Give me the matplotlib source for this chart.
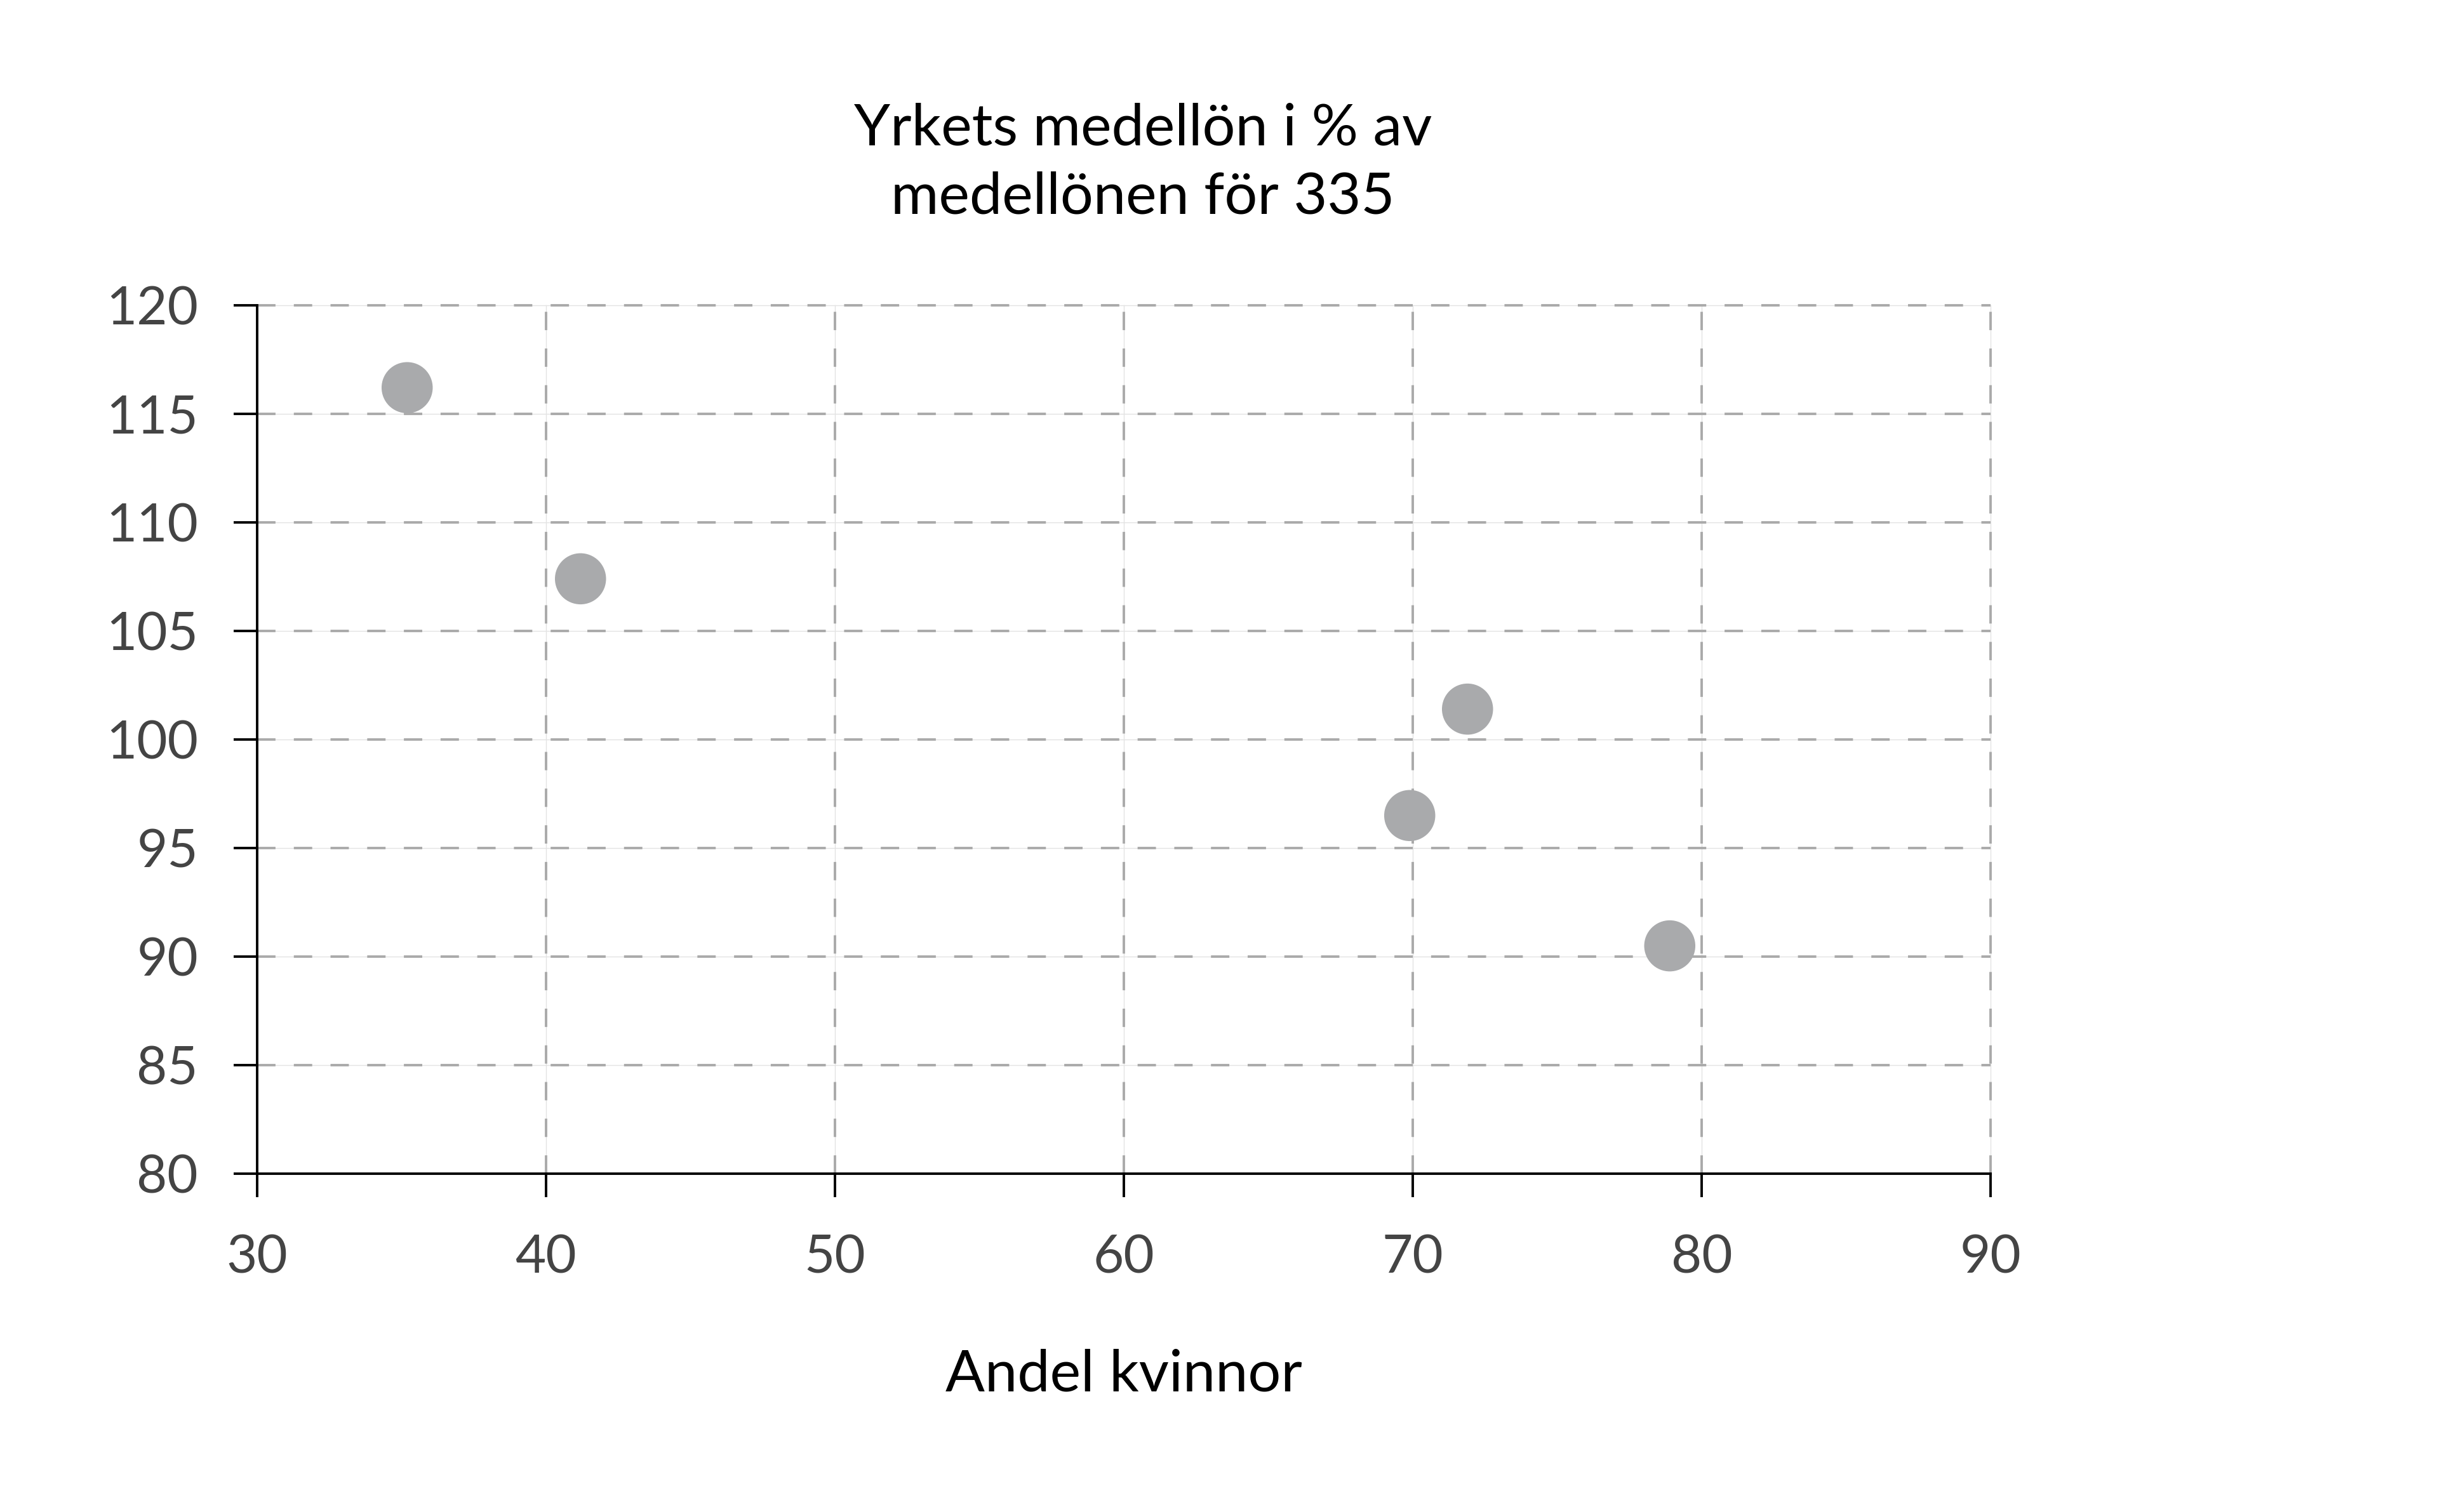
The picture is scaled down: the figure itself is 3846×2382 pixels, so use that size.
import matplotlib.pyplot as plt

plt.rcParams['font.family'] = ['Lato', 'DejaVu Sans']
plt.rcParams['lines.scale_dashes'] = False

# andel kvinnor (%) and yrkets medellön i % av medellönen för 335
andel_kvinnor = [35.2, 41.2, 71.9, 69.9, 78.9]
medellon = [116.2, 107.4, 101.4, 96.5, 90.5]

xticks = [30, 40, 50, 60, 70, 80, 90]
yticks = [80, 85, 90, 95, 100, 105, 110, 115, 120]

title = "Yrkets medellön i % av\nmedellönen för 335"
xlabel = "Andel kvinnor"

fig = plt.figure(figsize=(19.23, 11.91), dpi=200)
ax = fig.add_axes([0.1052, 0.2236, 0.7099, 0.5746])

ax.set_xlim(30, 90)
ax.set_ylim(80, 120)

# grid: faint solid line under a grey dashed one
for x in xticks[1:]:
    ax.axvline(x, color='#e3e3e3', lw=0.5, zorder=1, clip_on=False)
    ax.axvline(x, color='#aaaaaa', lw=1.4, ls=(0, (10.4, 10.4)), zorder=1, clip_on=False)
for y in yticks[1:]:
    ax.axhline(y, color='#e3e3e3', lw=0.5, zorder=1, clip_on=False)
    ax.axhline(y, color='#aaaaaa', lw=1.4, ls=(0, (10.4, 10.4)), zorder=1, clip_on=False)

ax.scatter(andel_kvinnor, medellon, s=840, color='#a9aaac', edgecolors='none', zorder=3)

for s in ['top', 'right']:
    ax.spines[s].set_visible(False)
for s in ['left', 'bottom']:
    ax.spines[s].set_linewidth(1.4)
    ax.spines[s].set_zorder(4)

ax.set_xticks(xticks)
ax.set_yticks(yticks)
ax.tick_params(axis='both', length=13.3, width=1.4, colors='black',
               labelcolor='#444444', labelsize=30)
ax.tick_params(axis='x', pad=21)
ax.tick_params(axis='y', pad=20)
for lab in ax.get_yticklabels():
    lab.set_y(lab.get_position()[1])
    lab.set_va('center_baseline')

fig.text(0.468, 0.892, title, ha='center', va='center', fontsize=33,
         color='black', linespacing=1.38)
fig.text(0.4601, 0.0907, xlabel, ha='center', va='center', fontsize=33, color='black')

fig.savefig("out.png", dpi=200)
